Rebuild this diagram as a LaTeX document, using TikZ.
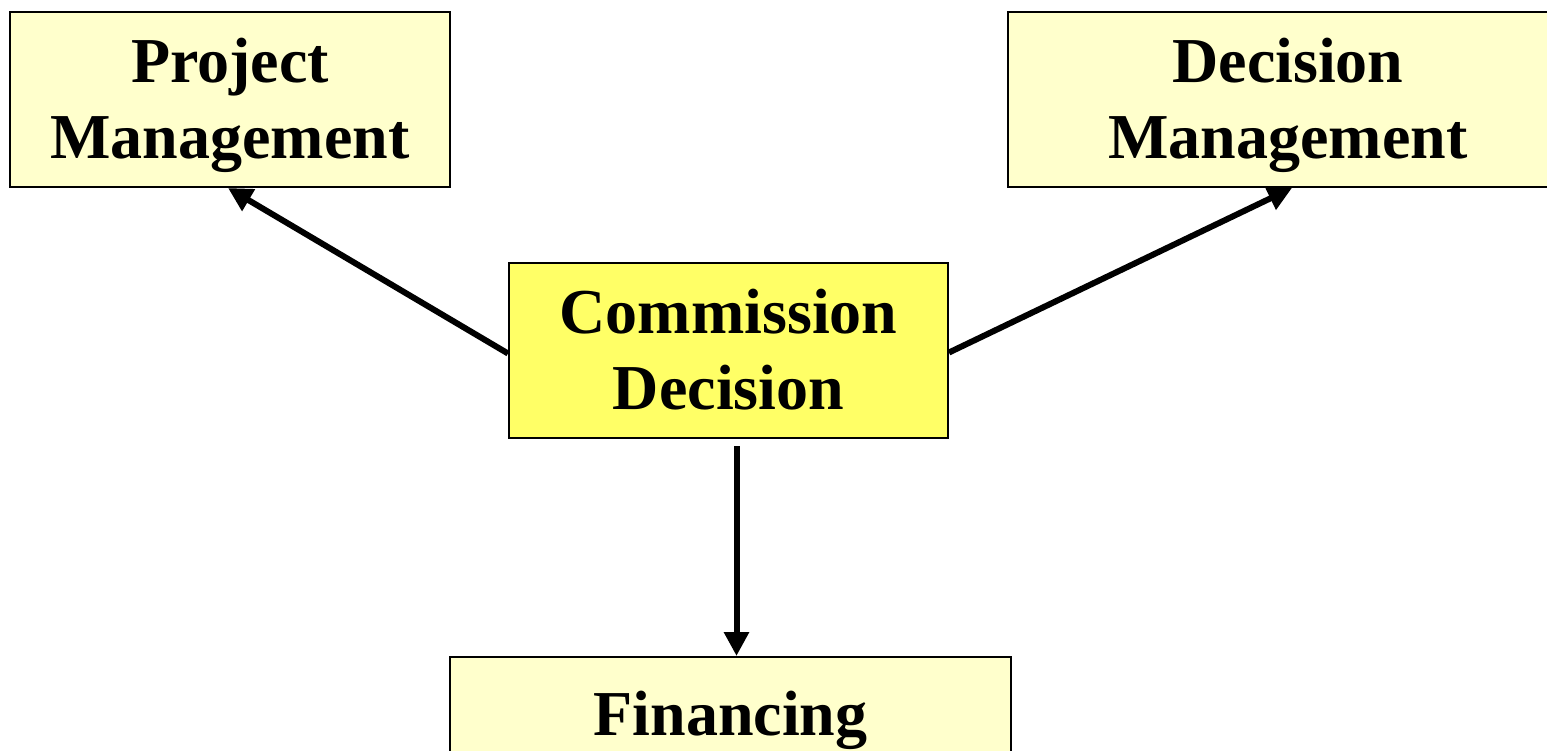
\documentclass[tikz,border=0pt]{standalone}
\usepackage{fontspec}
\setmainfont{Liberation Serif}
\usetikzlibrary{arrows.meta}
\definecolor{paleyel}{HTML}{FFFFCC}
\definecolor{brightyel}{HTML}{FFFF66}
\begin{document}
\begin{tikzpicture}[x=0.5pt,y=-0.5pt,
	box/.style={draw,line width=1pt,fill=paleyel,align=center,inner sep=0pt,
		text depth=1pt,font=\bfseries\fontsize{32}{38}\selectfont},
	arr/.style={line width=3pt,-{Triangle[length=12pt,width=12pt]}}]
\useasboundingbox (0,0) rectangle (1547,750);
\clip (0,0) rectangle (1547,750);
\node[box,minimum width=220pt,minimum height=87.5pt] (PM) at (230,99.5) {Project\\Management};
\node[box,minimum width=280pt,minimum height=87.5pt] (DM) at (1288,99.5) {Decision\\Management};
\node[box,fill=brightyel,minimum width=219.5pt,minimum height=87.5pt] (CD) at (728.5,350.5) {Commission\\Decision};
\node[box,minimum width=280.5pt,minimum height=57pt,anchor=north] (F) at (730.5,656) {Financing};
\draw[arr] ([yshift=-1.5pt]CD.west) -- ([xshift=-1pt]PM.south);
\draw[arr] ([yshift=-1pt]CD.east) -- ([xshift=2pt]DM.south);
\draw[arr,shorten <=3.5pt] ([xshift=4pt]CD.south) -- ([xshift=3pt]F.north);
\end{tikzpicture}
\end{document}
